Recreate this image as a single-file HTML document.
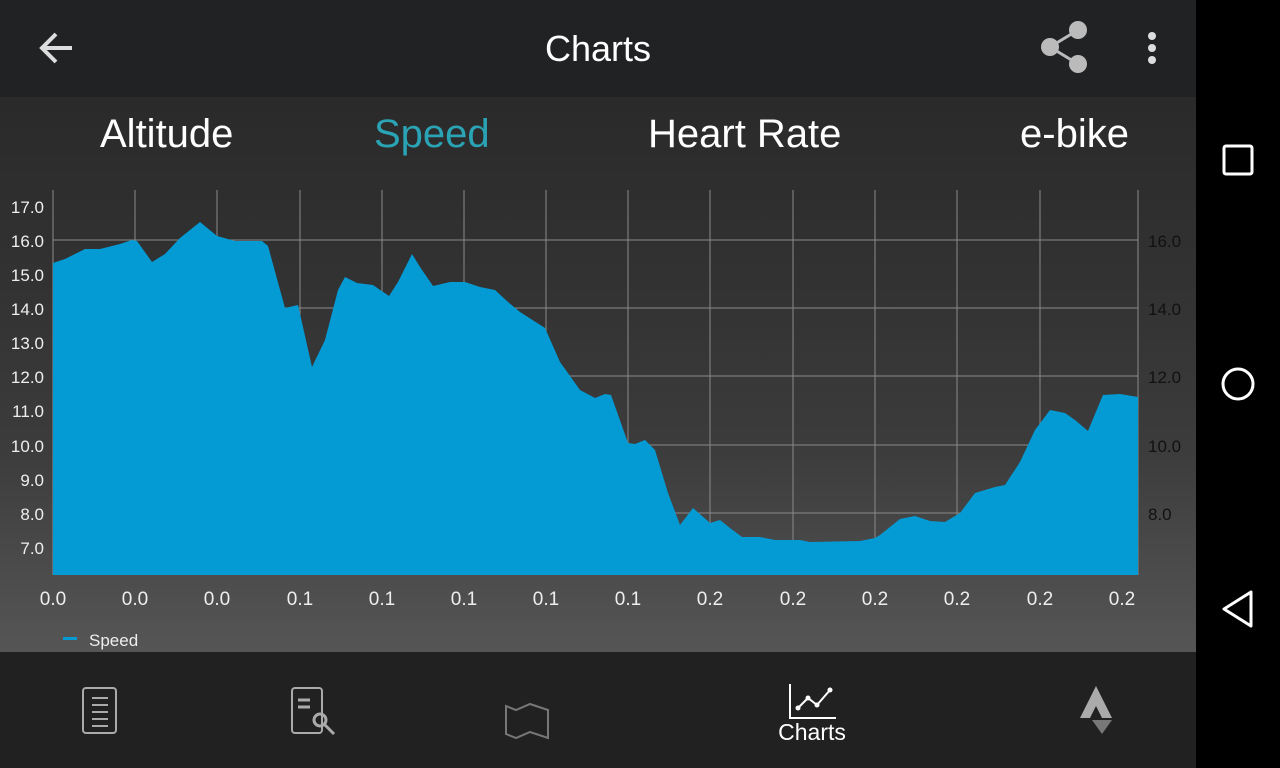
<!DOCTYPE html>
<html><head><meta charset="utf-8"><style>
body{margin:0;width:1280px;height:768px;overflow:hidden;background:#000;font-family:"Liberation Sans",sans-serif}
.app{position:absolute;left:0;top:0;width:1196px;height:768px;background:linear-gradient(180deg,#2a2a2a 97px,#333 300px,#3c3c3c 450px,#4a4a4a 560px,#555 650px)}
.top{position:absolute;left:0;top:0;width:1196px;height:97px;background:#212223}
.title{position:absolute;left:0;width:1196px;top:28px;text-align:center;color:#fff;font-size:36px;font-weight:300}
.tab{position:absolute;top:112px;font-size:40px;color:#fff;font-weight:300}
.bnav{position:absolute;left:0;top:652px;width:1196px;height:116px;background:#212121}
.lbl{font-size:17px;fill:#eee;font-family:"Liberation Sans",sans-serif}
</style></head><body>
<div class="app">
<svg width="1196" height="768" style="position:absolute;left:0;top:0">
<g stroke="#8a8a8a" stroke-width="1">
<line x1="53" y1="190" x2="53" y2="575"/><line x1="135" y1="190" x2="135" y2="575"/><line x1="217" y1="190" x2="217" y2="575"/><line x1="300" y1="190" x2="300" y2="575"/><line x1="382" y1="190" x2="382" y2="575"/><line x1="464" y1="190" x2="464" y2="575"/><line x1="546" y1="190" x2="546" y2="575"/><line x1="628" y1="190" x2="628" y2="575"/><line x1="710" y1="190" x2="710" y2="575"/><line x1="793" y1="190" x2="793" y2="575"/><line x1="875" y1="190" x2="875" y2="575"/><line x1="957" y1="190" x2="957" y2="575"/><line x1="1040" y1="190" x2="1040" y2="575"/><line x1="1138" y1="190" x2="1138" y2="575"/>
<line x1="53" y1="240" x2="1138" y2="240"/><line x1="53" y1="308" x2="1138" y2="308"/><line x1="53" y1="376" x2="1138" y2="376"/><line x1="53" y1="445" x2="1138" y2="445"/><line x1="53" y1="513" x2="1138" y2="513"/>
</g>
<path fill="#049bd4" d="M53,263 L65,259 L85,249 L100,249 L120,244 L132,240 L137,241 L152,262 L165,254 L180,238 L200,222 L217,236 L235,241 L262,241 L268,246 L285,308 L298,305 L312,367 L325,340 L338,290 L345,277 L357,283 L373,285 L389,296 L398,282 L412,254 L420,267 L433,286 L450,282 L465,282 L480,287 L495,290 L508,302 L520,312 L545,328 L560,362 L580,390 L595,398 L605,394 L611,395 L628,443 L635,444 L645,440 L655,450 L668,493 L680,525 L693,508 L710,523 L720,520 L730,528 L742,537 L760,537 L775,540 L800,540 L810,542 L860,541 L875,538 L880,535 L900,519 L915,516 L930,521 L945,522 L960,513 L975,493 L995,487 L1005,485 L1020,462 L1035,430 L1050,410 L1065,413 L1075,420 L1088,431 L1100,402 L1103,395 L1120,394 L1138,397 L1138,575 L53,575 Z"/>
<g class="lbl" text-anchor="end">
<text x="44" y="213">17.0</text><text x="44" y="247">16.0</text><text x="44" y="281">15.0</text><text x="44" y="315">14.0</text><text x="44" y="349">13.0</text><text x="44" y="383">12.0</text><text x="44" y="417">11.0</text><text x="44" y="452">10.0</text><text x="44" y="486">9.0</text><text x="44" y="520">8.0</text><text x="44" y="554">7.0</text>
</g>
<g class="lbl" style="fill:#111">
<text x="1148" y="247">16.0</text><text x="1148" y="315">14.0</text><text x="1148" y="383">12.0</text><text x="1148" y="452">10.0</text><text x="1148" y="520">8.0</text>
</g>
<g class="lbl" text-anchor="middle" style="font-size:19px">
<text x="53" y="605">0.0</text><text x="135" y="605">0.0</text><text x="217" y="605">0.0</text><text x="300" y="605">0.1</text><text x="382" y="605">0.1</text><text x="464" y="605">0.1</text><text x="546" y="605">0.1</text><text x="628" y="605">0.1</text><text x="710" y="605">0.2</text><text x="793" y="605">0.2</text><text x="875" y="605">0.2</text><text x="957" y="605">0.2</text><text x="1040" y="605">0.2</text><text x="1122" y="605">0.2</text>
</g>
<rect x="63" y="637" width="14" height="3" fill="#049bd4"/>
<text x="89" y="646" class="lbl">Speed</text>
</svg>
<div class="top">
<svg width="1196" height="97" style="position:absolute;left:0;top:0">
<path d="M72,48 H42 M56,34 L42,48 L56,62" stroke="#ddd" stroke-width="4" fill="none"/>
<g fill="#bbb"><circle cx="1078" cy="30" r="9"/><circle cx="1050" cy="47" r="9"/><circle cx="1078" cy="64" r="9"/></g>
<path d="M1078,30 L1050,47 L1078,64" stroke="#bbb" stroke-width="3" fill="none"/>
<g fill="#ddd"><circle cx="1152" cy="36" r="4"/><circle cx="1152" cy="48" r="4"/><circle cx="1152" cy="60" r="4"/></g>
</svg>
<div class="title">Charts</div>
</div>
<div class="tab" style="left:100px">Altitude</div>
<div class="tab" style="left:374px;color:#2aa3b5">Speed</div>
<div class="tab" style="left:648px">Heart Rate</div>
<div class="tab" style="left:1020px">e-bike</div>
<div class="bnav">
<svg width="1196" height="116" style="position:absolute;left:0;top:0">
<rect x="83" y="36" width="33" height="45" rx="3" fill="none" stroke="#aaa" stroke-width="2"/>
<g stroke="#aaa" stroke-width="2"><line x1="92" y1="46" x2="108" y2="46"/><line x1="92" y1="53" x2="108" y2="53"/><line x1="92" y1="60" x2="108" y2="60"/><line x1="92" y1="67" x2="108" y2="67"/><line x1="92" y1="74" x2="108" y2="74"/></g>
<rect x="292" y="36" width="30" height="45" rx="3" fill="none" stroke="#aaa" stroke-width="2"/>
<g stroke="#aaa" stroke-width="3"><line x1="298" y1="48" x2="310" y2="48"/><line x1="298" y1="55" x2="310" y2="55"/></g>
<circle cx="320" cy="68" r="6" fill="none" stroke="#aaa" stroke-width="3"/><line x1="324" y1="72" x2="334" y2="82" stroke="#aaa" stroke-width="3"/>
<path d="M506,54 L516,58 L530,52 L548,58 L548,86 L530,80 L516,86 L506,82 Z" fill="none" stroke="#777" stroke-width="2"/>
<path d="M790,32 V66 H836" fill="none" stroke="#fff" stroke-width="2"/>
<path d="M798,56 L808,46 L817,53 L830,38" fill="none" stroke="#fff" stroke-width="2"/>
<g fill="#fff"><circle cx="798" cy="56" r="2.5"/><circle cx="808" cy="46" r="2.5"/><circle cx="817" cy="53" r="2.5"/><circle cx="830" cy="38" r="2.5"/></g>
<text x="812" y="88" text-anchor="middle" style="fill:#fff;font-size:23px;font-family:'Liberation Sans',sans-serif">Charts</text>
<path d="M1096,34 L1080,66 H1090 L1096,54 L1102,66 H1112 Z" fill="#aaa"/>
<path d="M1092,68 L1102,82 L1112,68 Z" fill="#777"/>
</svg>
</div>
</div>
<svg width="84" height="768" style="position:absolute;left:1196px;top:0">
<rect x="28" y="146" width="28" height="28" rx="2" fill="none" stroke="#fff" stroke-width="3"/>
<circle cx="42" cy="384" r="15" fill="none" stroke="#fff" stroke-width="3"/>
<path d="M55,592 L28,609 L55,626 Z" fill="none" stroke="#fff" stroke-width="3" stroke-linejoin="round"/>
</svg>
</body></html>
